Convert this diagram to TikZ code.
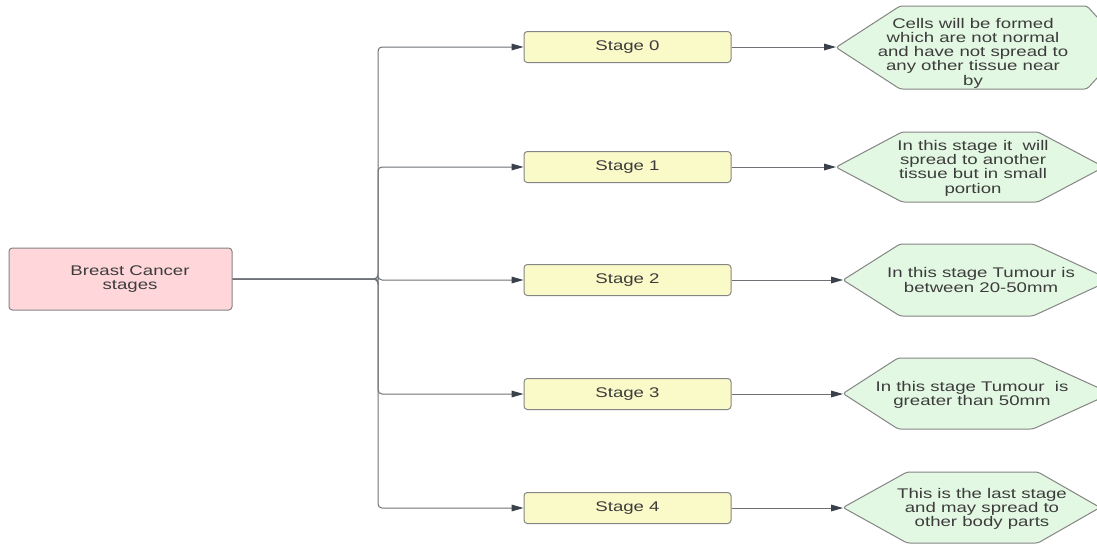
\documentclass[tikz,border=0pt]{standalone}
\usepackage{fontspec}
\setmainfont{Liberation Sans}[FakeStretch=1.33]
\usetikzlibrary{arrows.meta}

\definecolor{rootfill}{HTML}{FFD7DA}
\definecolor{stagefill}{HTML}{FAFAC8}
\definecolor{hexfill}{HTML}{E3F8E3}
\definecolor{edgegray}{HTML}{858585}
\definecolor{wiregray}{HTML}{6E7277}
\definecolor{tipdark}{HTML}{3B414A}
\definecolor{inkgray}{HTML}{3C3C3C}

\tikzset{
  box/.style={draw=edgegray, line width=0.75pt, rounded corners=2.5pt, inner sep=0pt},
  rootbox/.style={box, fill=rootfill, minimum width=167.25pt, minimum height=46.5pt},
  stagebox/.style={box, fill=stagefill, minimum width=155.25pt, minimum height=23.25pt,
    text=inkgray, font=\fontsize{10.5pt}{10.7pt}\selectfont},
  hexline/.style={draw=edgegray, fill=hexfill, line width=0.75pt, rounded corners=2pt},
  txt/.style={text=inkgray, align=center, inner sep=0pt,
    font=\fontsize{10.5pt}{10.7pt}\selectfont},
  wire/.style={draw=wiregray, line width=0.75pt, rounded corners=3pt,
    -{Triangle[length=9pt,width=5pt,color=tipdark]}},
}

% hexagon: left tip x, top-left x, top-right x, right tip x, top y, bottom y
\newcommand\hexagonbox[6]{%
  \path[hexline] (#1,{(#5+#6)/2}) -- (#2,#5) -- (#3,#5) -- (#4,{(#5+#6)/2})
    -- (#3,#6) -- (#2,#6) -- cycle;}

\begin{document}
\begin{tikzpicture}[x=0.75pt, y=-0.75pt]
  \useasboundingbox (0,0) rectangle (1097,546);
  \clip (0,0) rectangle (1097,546);
  \fill[white] (0,0) rectangle (1097,546);

  % root
  \node[rootbox] (root) at (120.5,279) {};
  \node[txt] (rootlabel) at (130,279) {Breast Cancer\\stages};

  % stages
  \node[stagebox] (s0) at (627.5,47)  {Stage 0};
  \node[stagebox] (s1) at (627.5,167) {Stage 1};
  \node[stagebox] (s2) at (627.5,280) {Stage 2};
  \node[stagebox] (s3) at (627.5,394) {Stage 3};
  \node[stagebox] (s4) at (627.5,508) {Stage 4};

  % descriptions
  \hexagonbox{836}{900}{1087}{1125}{6}{89}
  \hexagonbox{836}{902}{1038}{1104}{132}{202}
  \hexagonbox{843}{900}{1033}{1111}{244}{316}
  \hexagonbox{843}{898}{1033}{1111}{358}{429}
  \hexagonbox{843}{907}{1038}{1100}{472}{543}

  \coordinate (h0w) at (836,47);
  \coordinate (h1w) at (836,167);
  \coordinate (h2w) at (843,280);
  \coordinate (h3w) at (843,394);
  \coordinate (h4w) at (843,508);

  \node[txt] (h0) at (973,53) {Cells will be formed\\which are not normal\\and have not spread to\\any other tissue near\\by};
  \node[txt] (h1) at (973,168) {In this stage it\ \ will\\spread to another\\tissue but in small\\portion};
  \node[txt] (h2) at (981,280) {In this stage Tumour is\\between 20-50mm};
  \node[txt] (h3) at (972,395) {In this stage Tumour\ \ is\\greater than 50mm};
  \node[txt] (h4) at (982,509) {This is the last stage\\and may spread to\\other body parts};

  % connectors from the root through the trunk
  \foreach \s in {s0,s1,s2,s3,s4}
    \draw[wire] (root.east) -- (378,279) |- (\s.west);

  % connectors from stages to descriptions
  \foreach \i in {0,...,4}
    \draw[wire] (s\i.east) -- (h\i w);
\end{tikzpicture}
\end{document}
